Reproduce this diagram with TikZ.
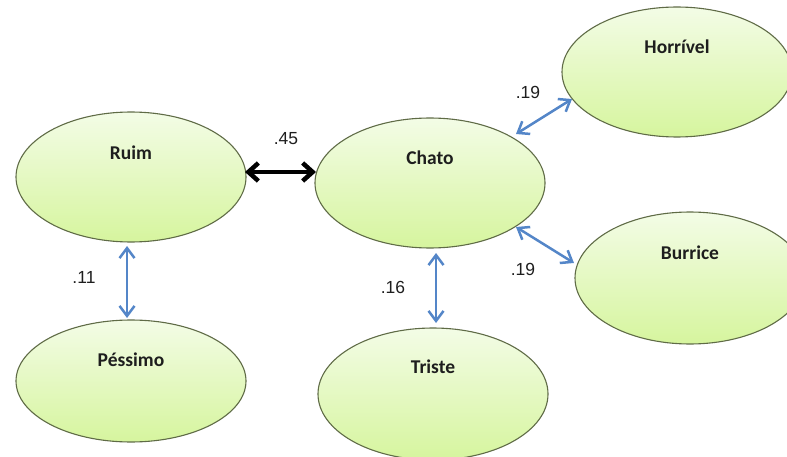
\documentclass[tikz,border=0pt]{standalone}
\usepackage{fontspec}
\setmainfont{Liberation Sans}
\newfontfamily\calib{Carlito}
\usetikzlibrary{shapes.geometric,arrows.meta,shadings}
\definecolor{ellborder}{RGB}{95,107,70}
\definecolor{elltop}{RGB}{243,252,230}
\definecolor{ellbot}{RGB}{214,245,158}
\definecolor{linkblue}{RGB}{84,134,200}
\definecolor{txt}{RGB}{30,30,30}
\tikzset{
  term/.style={ellipse, draw=ellborder, line width=1.1pt, top color=elltop, bottom color=ellbot,
    inner sep=0pt, minimum width=230pt, minimum height=130pt},
  termtext/.style={font=\calib\bfseries\fontsize{19.5}{22}\selectfont, text=txt},
  weight/.style={font=\fontsize{17.5}{20}\selectfont, text=txt},
  bluelink/.style={draw=linkblue, line width=2.5pt, {Straight Barb[length=10pt,width=15pt]}-{Straight Barb[length=10pt,width=15pt]}},
  blacklink/.style={draw=black, line width=4.5pt, {Straight Barb[length=10pt,width=18pt]}-{Straight Barb[length=10pt,width=18pt]}}
}
\begin{document}
\begin{tikzpicture}[x=1pt,y=-1pt]
\useasboundingbox (0,0) rectangle (787,457);
\clip (0,0) rectangle (787,457);
\node[term, label={[termtext, name=ruimt, yshift=24pt]center:Ruim}] (ruim) at (131,177) {};
\node[term, minimum height=122pt, label={[termtext, name=pessimot, yshift=21pt]center:Péssimo}] (pessimo) at (131,381) {};
\node[term, label={[termtext, name=chatot, yshift=25pt]center:Chato}] (chato) at (430,183) {};
\node[term, minimum height=132pt, label={[termtext, name=tristet, yshift=27pt]center:Triste}] (triste) at (433,394) {};
\node[term, minimum height=130pt, label={[termtext, name=horrivelt, yshift=25pt]center:Horrível}] (horrivel) at (677,72) {};
\node[term, minimum height=132pt, label={[termtext, name=burricet, yshift=25pt]center:Burrice}] (burrice) at (690,278) {};
% connector end points on the ellipse borders
\coordinate (a1) at (245,172);
\coordinate (a2) at (316,172);
\draw[blacklink] (a1) -- (a2);
\node[weight] (w45) at (286,139) {.45};
\coordinate (b1) at (127,246);
\coordinate (b2) at (127,318);
\draw[bluelink] (b1) -- (b2);
\node[weight] (w11) at (84,277) {.11};
\coordinate (c1) at (436,253);
\coordinate (c2) at (436,323);
\draw[bluelink] (c1) -- (c2);
\node[weight] (w16) at (393,287) {.16};
\coordinate (d1) at (516,134);
\coordinate (d2) at (572,99);
\draw[bluelink] (d1) -- (d2);
\node[weight] (w19a) at (528,92) {.19};
\coordinate (e1) at (516,227);
\coordinate (e2) at (574,263);
\draw[bluelink] (e1) -- (e2);
\node[weight] (w19b) at (523,269) {.19};
\end{tikzpicture}
\end{document}
